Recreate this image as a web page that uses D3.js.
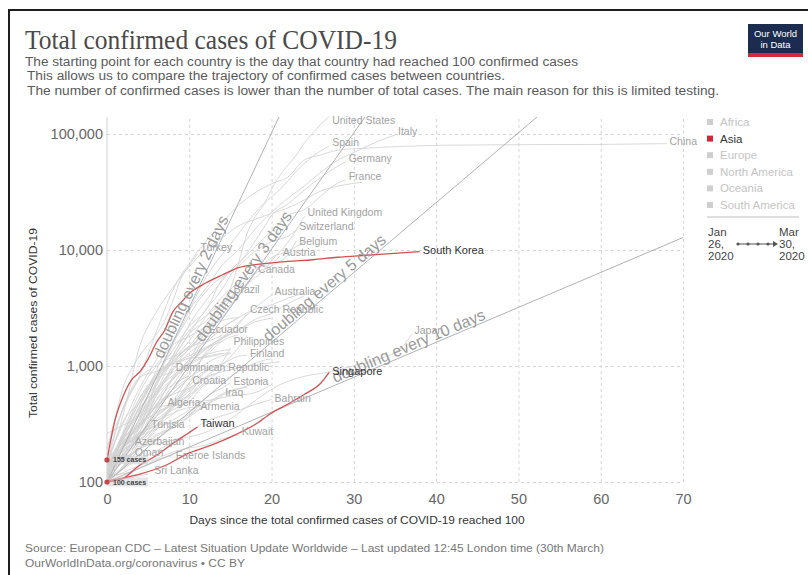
<!DOCTYPE html>
<html>
<head>
<meta charset="utf-8">
<script src="https://cdn.jsdelivr.net/npm/d3@7"></script>
<style>
  body { margin: 0; background: #fff; }
  svg { display: block; font-family: "Liberation Sans", Arial, sans-serif; }
</style>
</head>
<body>
<svg id="chart" width="808" height="575"></svg>
<script>
// ---- data: [days since 100th case, confirmed cases] ----
const xTicks = [0, 10, 20, 30, 40, 50, 60, 70];
const yTicks = [100, 1000, 10000, 100000];
const doublingDays = [2, 3, 5, 10];
const regions = ["Africa", "Asia", "Europe", "North America", "Oceania", "South America"];
const activeRegion = "Asia";
const highlighted = ["South Korea", "Taiwan", "Singapore"];
const startNotes = [[155, "155 cases"], [100, "100 cases"]];

const asiaSeries = [
  ["China", [[0,140],[2,440],[4,830],[6,1975],[8,4515],[10,7711],[12,11791],[14,17205],[16,24324],[18,31161],[20,37198],[22,42638],[24,59804],[26,66000],[28,72436],[31,75077],[36,78064],[41,79968],[50,80778],[60,81300],[68,82447]]],
  ["South Korea", [[0,155],[1,346],[2,556],[3,763],[4,893],[5,1146],[6,1595],[7,2022],[8,2931],[9,3526],[10,4212],[12,5186],[14,6088],[16,7041],[18,7478],[20,7755],[22,7979],[25,8236],[28,8652],[31,8961],[34,9241],[38,9661]]],
  ["Japan", [[0,105],[3,144],[6,186],[9,234],[12,268],[15,349],[18,502],[21,689],[24,814],[27,889],[30,1007],[33,1140],[36,1499],[37,1866]]],
  ["Iran", [[0,139],[2,388],[4,1501],[6,2922],[8,4747],[10,7161],[12,10075],[14,12729],[16,16169],[18,18407],[20,20610],[22,23049],[24,27017],[26,32332],[28,35408],[31,38309]]],
  ["Singapore", [[0,102],[4,117],[7,138],[10,178],[13,212],[15,244],[18,313],[20,393],[22,470],[24,570],[26,714],[27,879]]],
  ["Taiwan", [[0,100],[2,108],[4,140],[6,169],[8,215],[10,267],[11,298]]],
  ["Malaysia", [[0,197],[2,428],[4,790],[6,1030],[8,1518],[10,1796],[12,2161],[14,2470],[16,2626]]],
  ["Israel", [[0,126],[2,200],[4,337],[6,677],[8,1238],[10,2030],[12,2693],[14,3460],[16,4247]]],
  ["Pakistan", [[0,136],[2,241],[4,453],[6,776],[8,887],[10,1063],[12,1408],[14,1625]]],
  ["Thailand", [[0,114],[2,212],[4,322],[6,599],[8,827],[10,1045],[12,1245],[15,1388]]],
  ["Saudi Arabia", [[0,103],[2,171],[4,274],[6,511],[8,767],[10,1012],[12,1203],[15,1299]]],
  ["India", [[0,107],[2,137],[4,195],[6,283],[8,468],[10,562],[12,724],[15,1071]]],
  ["Indonesia", [[0,117],[2,172],[4,309],[6,450],[8,579],[10,790],[12,1046],[15,1285]]],
  ["Qatar", [[0,262],[3,337],[6,439],[9,470],[12,501],[15,549],[18,590],[20,693]]],
  ["Iraq", [[0,110],[2,154],[4,192],[6,233],[8,316],[10,382],[12,458],[14,547]]],
  ["Bahrain", [[0,110],[3,195],[6,214],[9,241],[12,332],[15,392],[18,466],[20,515]]],
  ["Kuwait", [[0,104],[3,130],[6,159],[9,191],[12,208],[14,235],[16,255]]],
  ["Philippines", [[0,111],[2,187],[4,217],[6,307],[8,462],[10,552],[12,803],[14,1075],[15,1418]]],
  ["Azerbaijan", [[0,122],[1,165],[3,209]]],
  ["Armenia", [[0,115],[2,160],[4,194],[6,249],[8,290],[10,372],[11,482]]],
  ["Oman", [[0,109],[2,131],[3,167]]],
  ["Sri Lanka", [[0,102],[2,106],[4,113],[5,117]]],
  ["Lebanon", [[0,124],[2,163],[4,248],[6,333],[8,391],[10,438],[12,446]]]
];

const europeSeries = [
  ["Italy", [[0,155],[2,322],[4,655],[6,1128],[8,2036],[10,3089],[12,4636],[14,7375],[16,10149],[18,15113],[20,21157],[22,27980],[24,35713],[26,47021],[28,59138],[30,69176],[32,80589],[34,92472],[35,97689]]],
  ["Spain", [[0,120],[3,261],[5,500],[7,1073],[9,2140],[10,3004],[12,5753],[14,9191],[15,11178],[17,17147],[19,24926],[21,33089],[23,47610],[25,64059],[27,78797]]],
  ["Germany", [[0,117],[2,262],[4,534],[6,847],[8,1176],[10,1908],[12,3062],[14,4585],[15,6012],[17,9360],[19,15320],[20,19848],[22,24873],[24,32986],[26,42288],[28,52547],[29,57298]]],
  ["France", [[0,130],[2,212],[4,423],[6,716],[8,1209],[10,2281],[12,3640],[14,5423],[15,6633],[17,9043],[19,12475],[20,14459],[22,19856],[24,22302],[26,29155],[28,37575],[29,40174]]],
  ["United Kingdom", [[0,115],[2,206],[4,319],[6,456],[8,798],[10,1144],[12,1950],[14,2626],[15,3269],[17,5018],[19,6650],[20,8077],[22,11658],[24,19522]]],
  ["Switzerland", [[0,120],[2,264],[4,491],[6,858],[8,1359],[10,2200],[12,3010],[14,5615],[16,7245],[18,9765],[20,11811],[22,13152],[23,14829]]],
  ["Belgium", [[0,109],[2,239],[4,314],[6,689],[8,1085],[10,1486],[12,2257],[14,3401],[16,4269],[18,6235],[20,7284],[22,9134],[23,11899]]],
  ["Austria", [[0,104],[2,182],[4,361],[6,800],[8,1132],[10,1646],[12,2649],[14,3924],[16,5282],[18,6909],[20,7697],[21,8813]]],
  ["Netherlands", [[0,128],[2,265],[4,382],[6,614],[8,959],[10,1413],[12,2051],[14,3003],[16,4749],[18,6412],[20,8603],[22,9762],[24,11750]]],
  ["Portugal", [[0,112],[1,169],[3,331],[5,642],[7,1280],[9,2060],[11,3544],[13,5170],[15,6408]]],
  ["Sweden", [[0,137],[2,248],[4,500],[6,814],[8,1040],[10,1167],[12,1423],[14,1746],[16,2046],[18,2526],[20,2840],[22,3447],[24,4028]]],
  ["Norway", [[0,113],[2,277],[4,598],[6,996],[8,1198],[10,1423],[12,1746],[14,2132],[16,2625],[18,3084],[20,3369],[22,3845],[24,4284]]],
  ["Ireland", [[0,129],[2,223],[4,292],[6,557],[8,785],[10,1125],[12,1564],[14,2121],[16,2615]]],
  ["Denmark", [[0,156],[2,442],[4,804],[6,898],[8,1057],[10,1225],[12,1450],[14,1718],[16,2046],[18,2395],[20,2577]]],
  ["Czech Republic", [[0,116],[2,214],[4,298],[6,464],[8,765],[10,1047],[12,1394],[14,1775],[16,2279],[17,2817]]],
  ["Finland", [[0,155],[2,225],[4,319],[6,450],[8,626],[10,792],[12,958],[14,1041],[16,1218],[17,1240]]],
  ["Croatia", [[0,105],[2,206],[4,315],[6,442],[8,586],[10,790]]],
  ["Estonia", [[0,115],[2,205],[4,267],[6,306],[8,326],[10,369],[12,538],[14,645],[15,715]]],
  ["Poland", [[0,103],[2,177],[4,251],[6,425],[8,634],[10,901],[12,1221],[14,1638],[16,1862]]],
  ["Luxembourg", [[0,140],[2,335],[4,484],[6,798],[8,1099],[10,1453],[12,1605],[14,1831]]],
  ["Romania", [[0,123],[2,168],[4,260],[6,308],[8,433],[10,576],[12,906],[14,1029],[16,1452],[17,1815]]],
  ["Greece", [[0,117],[2,190],[4,228],[6,331],[8,418],[10,495],[12,695],[14,743],[16,892],[18,1061],[20,1156]]],
  ["Iceland", [[0,109],[2,199],[4,250],[6,473],[8,568],[10,648],[12,802],[14,890],[16,963],[18,1020],[21,1086]]],
  ["Slovenia", [[0,141],[2,219],[4,253],[6,286],[8,341],[10,414],[12,480],[14,562],[16,632],[19,756]]],
  ["Russia", [[0,114],[2,199],[4,253],[6,367],[8,495],[10,840],[12,1264],[13,1534]]],
  ["Serbia", [[0,103],[2,135],[4,222],[6,303],[8,384],[10,528],[12,741]]],
  ["Faeroe Islands", [[0,115],[2,118],[4,132],[6,155],[8,169]]],
  ["Turkey", [[0,191],[1,359],[2,670],[3,947],[4,1236],[5,1529],[6,1872],[7,2433],[8,3629],[9,5698],[10,7402],[11,9217]]]
];

const americasSeries = [
  ["United States", [[0,118],[3,217],[5,423],[7,755],[9,1301],[11,1663],[12,2174],[14,3487],[15,4661],[16,7786],[17,13680],[18,19383],[19,24207],[20,33404],[21,43734],[22,53740],[23,65778],[24,83836],[25,101657],[26,121478],[27,140904]]],
  ["Canada", [[0,103],[2,138],[4,249],[6,424],[8,690],[10,1087],[12,1739],[14,2792],[16,4043],[18,6280]]],
  ["Brazil", [[0,121],[2,234],[4,346],[6,621],[8,1128],[10,1891],[12,2433],[14,3417],[15,4256]]],
  ["Ecuador", [[0,111],[2,260],[4,532],[6,789],[8,1049],[10,1403],[12,1924]]],
  ["Dominican Republic", [[0,112],[2,245],[4,392],[6,581],[8,901]]],
  ["Chile", [[0,155],[2,238],[4,434],[6,632],[8,922],[10,1306],[12,1610],[14,2139]]],
  ["Mexico", [[0,118],[2,203],[4,251],[6,367],[8,475],[10,717],[13,993]]],
  ["Peru", [[0,117],[2,234],[4,318],[6,395],[8,480],[10,635],[13,852]]],
  ["Panama", [[0,109],[2,200],[4,245],[6,345],[8,443],[10,674],[13,989]]],
  ["Argentina", [[0,128],[2,225],[4,301],[6,502],[8,690],[10,820]]],
  ["Colombia", [[0,102],[2,158],[4,231],[6,378],[8,470],[11,702]]]
];

const otherSeries = [
  ["Algeria", [[0,139],[2,201],[4,264],[6,367],[7,511]]],
  ["Tunisia", [[0,114],[1,173],[3,227],[5,312]]],
  ["Egypt", [[0,109],[2,150],[4,196],[6,256],[8,294],[10,366],[12,456],[14,576],[17,656]]],
  ["South Africa", [[0,116],[2,202],[4,274],[6,554],[8,927],[10,1170],[12,1187],[14,1280]]],
  ["Australia", [[0,107],[2,156],[4,197],[6,297],[8,452],[10,709],[12,1314],[14,1709],[16,2364],[18,3166],[20,4093]]]
];

const labelled = ["United States", "Italy", "Spain", "Germany", "France", "China",
  "United Kingdom", "Switzerland", "Belgium", "Austria", "Turkey", "Canada", "South Korea",
  "Brazil", "Australia", "Czech Republic", "Ecuador", "Philippines", "Finland", "Japan",
  "Dominican Republic", "Croatia", "Estonia", "Iraq", "Singapore", "Algeria", "Armenia",
  "Bahrain", "Tunisia", "Taiwan", "Kuwait", "Azerbaijan", "Oman", "Faeroe Islands", "Sri Lanka"];

// ---- layout ----
const svg = d3.select("#chart");
const plotLeft = 107, plotRight = 683, plotTop = 117, plotBottom = 482;

const x = d3.scaleLinear().domain([0, 70]).range([plotLeft, plotRight]);
const y = d3.scaleLog().domain([100, 140000]).range([plotBottom, plotTop]);

// frame
svg.append("path")
  .attr("d", "M9,575V10H808")
  .attr("fill", "none")
  .attr("stroke", "#1e1e1e")
  .attr("stroke-width", 2);

// title block
svg.append("text")
  .attr("x", 25).attr("y", 49)
  .attr("font-family", "'Liberation Serif', 'DejaVu Serif', serif")
  .attr("font-size", 27)
  .attr("fill", "#4a4a4a")
  .attr("textLength", 372).attr("lengthAdjust", "spacingAndGlyphs")
  .text("Total confirmed cases of COVID-19");

const subtitle = [
  ["The starting point for each country is the day that country had reached 100 confirmed cases", 25, 66, 553],
  ["This allows us to compare the trajectory of confirmed cases between countries.", 27, 80, 478],
  ["The number of confirmed cases is lower than the number of total cases. The main reason for this is limited testing.", 27, 95, 692]
];
subtitle.forEach(([t, sx, sy, w]) => {
  svg.append("text")
    .attr("x", sx).attr("y", sy)
    .attr("font-size", 12.5)
    .attr("fill", "#5a5a5a")
    .attr("textLength", w).attr("lengthAdjust", "spacingAndGlyphs")
    .text(t);
});

// logo
const logo = svg.append("g").attr("transform", "translate(748,24)");
logo.append("rect").attr("width", 55).attr("height", 33).attr("fill", "#1b2c4e");
logo.append("rect").attr("y", 29).attr("width", 55).attr("height", 4).attr("fill", "#d42b3a");
logo.append("text").attr("x", 27.5).attr("y", 13).attr("text-anchor", "middle")
  .attr("font-size", 9.5).attr("fill", "#fff").text("Our World");
logo.append("text").attr("x", 27.5).attr("y", 24).attr("text-anchor", "middle")
  .attr("font-size", 9.5).attr("fill", "#fff").text("in Data");

// grid
const grid = svg.append("g");
grid.append("g")
  .attr("transform", `translate(${plotLeft},0)`)
  .call(d3.axisLeft(y).tickValues(yTicks).tickSize(-(plotRight - plotLeft)).tickFormat(""))
  .call(g => g.select(".domain").remove())
  .call(g => g.selectAll("line").attr("stroke", "#d6d6d6").attr("stroke-dasharray", "3,3"));
grid.append("g")
  .attr("transform", `translate(0,${plotBottom})`)
  .call(d3.axisBottom(x).tickValues(xTicks.slice(1)).tickSize(-(plotBottom - plotTop)).tickFormat(""))
  .call(g => g.select(".domain").remove())
  .call(g => g.selectAll("line").attr("stroke", "#d6d6d6").attr("stroke-dasharray", "3,3"));
svg.append("line")
  .attr("x1", plotLeft).attr("x2", plotLeft).attr("y1", plotTop).attr("y2", plotBottom)
  .attr("stroke", "#cfcfcf");

// axis labels
svg.append("g")
  .attr("transform", `translate(${plotLeft},0)`)
  .call(d3.axisLeft(y).tickValues(yTicks).tickFormat(d3.format(",")).tickSize(0).tickPadding(4))
  .call(g => g.select(".domain").remove())
  .call(g => g.selectAll("text").attr("font-size", 14.5).attr("fill", "#666")
    .attr("font-family", "'Liberation Sans', Arial, sans-serif"));
svg.append("g")
  .attr("transform", `translate(0,${plotBottom})`)
  .call(d3.axisBottom(x).tickValues(xTicks).tickSize(0).tickPadding(12))
  .call(g => g.select(".domain").remove())
  .call(g => g.selectAll("text").attr("font-size", 14.5).attr("fill", "#666")
    .attr("font-family", "'Liberation Sans', Arial, sans-serif"));

svg.append("text")
  .attr("x", 357).attr("y", 524).attr("text-anchor", "middle")
  .attr("font-size", 11.5).attr("fill", "#333")
  .attr("textLength", 335).attr("lengthAdjust", "spacingAndGlyphs")
  .text("Days since the total confirmed cases of COVID-19 reached 100");
svg.append("text")
  .attr("transform", "translate(37,323) rotate(-90)")
  .attr("text-anchor", "middle")
  .attr("font-size", 11).attr("fill", "#333")
  .attr("textLength", 190).attr("lengthAdjust", "spacingAndGlyphs")
  .text("Total confirmed cases of COVID-19");

// plot
svg.append("clipPath").attr("id", "plot-clip")
  .append("rect").attr("x", plotLeft).attr("y", plotTop - 1)
  .attr("width", plotRight - plotLeft + 1).attr("height", plotBottom - plotTop + 3);

const plot = svg.append("g").attr("clip-path", "url(#plot-clip)");
const line = d3.line()
  .x(d => x(d[0]))
  .y(d => y(d[1]))
  .curve(d3.curveMonotoneX);

const allSeries = [...asiaSeries, ...europeSeries, ...americasSeries, ...otherSeries];
const greySeries = allSeries.filter(s => !highlighted.includes(s[0]));
const redSeries = allSeries.filter(s => highlighted.includes(s[0]));

plot.selectAll(".country")
  .data(greySeries)
  .join("path")
  .attr("class", "country")
  .attr("d", d => line(d[1]))
  .attr("fill", "none")
  .attr("stroke", "#d2d2d2")
  .attr("stroke-width", 0.85);

// doubling reference lines
doublingDays.forEach(k => {
  const endDay = Math.min(70, k * Math.log2(140000 / 100));
  const pts = [[0, 100], [endDay, 100 * Math.pow(2, endDay / k)]];
  plot.append("path")
    .attr("d", d3.line().x(d => x(d[0])).y(d => y(d[1]))(pts))
    .attr("stroke", "#b2b2b2")
    .attr("stroke-width", 1)
    .attr("fill", "none");
});

const labelAt = { 2: 11, 3: 17.3, 5: 27, 10: 37 };
doublingDays.forEach(k => {
  const d0 = labelAt[k];
  const px = x(d0), py = y(100 * Math.pow(2, d0 / k));
  const qx = x(d0 + 1), qy = y(100 * Math.pow(2, (d0 + 1) / k));
  const ang = Math.atan2(qy - py, qx - px) * 180 / Math.PI;
  svg.append("text")
    .attr("transform", `translate(${px},${py}) rotate(${ang})`)
    .attr("y", -2)
    .attr("text-anchor", "middle")
    .attr("font-size", 16)
    .attr("fill", "#9a9a9a")
    .text(`doubling every ${k} days`);
});

plot.selectAll(".asia")
  .data(redSeries)
  .join("path")
  .attr("class", "asia")
  .attr("d", d => line(d[1]))
  .attr("fill", "none")
  .attr("stroke", "#cf5154")
  .attr("stroke-width", 1.3);

// start markers
startNotes.forEach(([v, t]) => {
  const g = svg.append("g");
  const txt = g.append("text")
    .attr("x", x(0) + 6).attr("y", y(v) + 2.5)
    .attr("font-size", 7).attr("font-weight", "bold").attr("fill", "#444")
    .text(t);
  const bb = txt.node().getBBox();
  g.insert("rect", "text")
    .attr("x", x(0)).attr("y", bb.y - 1)
    .attr("width", bb.x + bb.width - x(0) + 2).attr("height", bb.height + 2)
    .attr("fill", "#cfcfcf").attr("opacity", 0.55);
  svg.append("circle")
    .attr("cx", x(0)).attr("cy", y(v)).attr("r", 2.6)
    .attr("fill", "#c4474b");
});

// country labels, sitting just above each line's last point
const labelNudge = {
  "United States": [0, 8], "Belgium": [0, 4], "Turkey": [0, -3], "Philippines": [0, -3],
  "Croatia": [0, 6], "Algeria": [0, 7], "Armenia": [0, 8], "Bahrain": [0, 3],
  "Tunisia": [0, 4], "Faeroe Islands": [0, 4], "Singapore": [0, 3], "Sri Lanka": [3, 0],
  "South Korea": [0, 2], "China": [0, 2], "Estonia": [0, 2], "Finland": [0, 2]
};
allSeries.filter(s => labelled.includes(s[0])).forEach(([name, pts]) => {
  const last = pts[pts.length - 1];
  const hi = highlighted.includes(name);
  const [nx, ny] = labelNudge[name] || [0, 0];
  svg.append("text")
    .attr("x", x(last[0]) + 3 + nx)
    .attr("y", y(last[1]) - 4 + ny)
    .attr("dy", "0.35em")
    .attr("font-size", hi ? 11 : 10.5)
    .attr("fill", hi ? "#333" : "#a2a2a2")
    .text(name);
});

// legend
const legend = svg.append("g").attr("transform", "translate(707,0)");
regions.forEach((r, i) => {
  const ly = 122 + i * 16.6;
  const on = r === activeRegion;
  legend.append("rect")
    .attr("x", 0).attr("y", ly - 3).attr("width", 6).attr("height", 6)
    .attr("fill", on ? "#d0283a" : "#cfcfcf");
  legend.append("text")
    .attr("x", 13).attr("y", ly).attr("dy", "0.35em")
    .attr("font-size", 11.5)
    .attr("fill", on ? "#333" : "#c4c4c4")
    .text(r);
});
legend.append("line")
  .attr("x1", 0).attr("x2", 92).attr("y1", 217).attr("y2", 217)
  .attr("stroke", "#bdbdbd");
[["Jan", "26,", "2020", 1], ["Mar", "30,", "2020", 72]].forEach(([a, b, c, lx]) => {
  [a, b, c].forEach((t, j) => {
    legend.append("text")
      .attr("x", lx).attr("y", 236 + j * 12)
      .attr("font-size", 11.5).attr("fill", "#444")
      .text(t);
  });
});
legend.append("line")
  .attr("x1", 31).attr("x2", 68).attr("y1", 244).attr("y2", 244)
  .attr("stroke", "#555").attr("stroke-width", 1);
[31, 41, 51, 61].forEach(cx => {
  legend.append("circle").attr("cx", cx).attr("cy", 244).attr("r", 1.6).attr("fill", "#555");
});
legend.append("path")
  .attr("d", "M66,241L71,244L66,247Z")
  .attr("fill", "#555");

// footer
svg.append("text")
  .attr("x", 25).attr("y", 552)
  .attr("font-size", 11).attr("fill", "#777")
  .attr("textLength", 579).attr("lengthAdjust", "spacingAndGlyphs")
  .text("Source: European CDC – Latest Situation Update Worldwide – Last updated 12:45 London time (30th March)");
svg.append("text")
  .attr("x", 25).attr("y", 567)
  .attr("font-size", 11).attr("fill", "#777")
  .attr("textLength", 220).attr("lengthAdjust", "spacingAndGlyphs")
  .text("OurWorldInData.org/coronavirus • CC BY");
</script>
</body>
</html>
